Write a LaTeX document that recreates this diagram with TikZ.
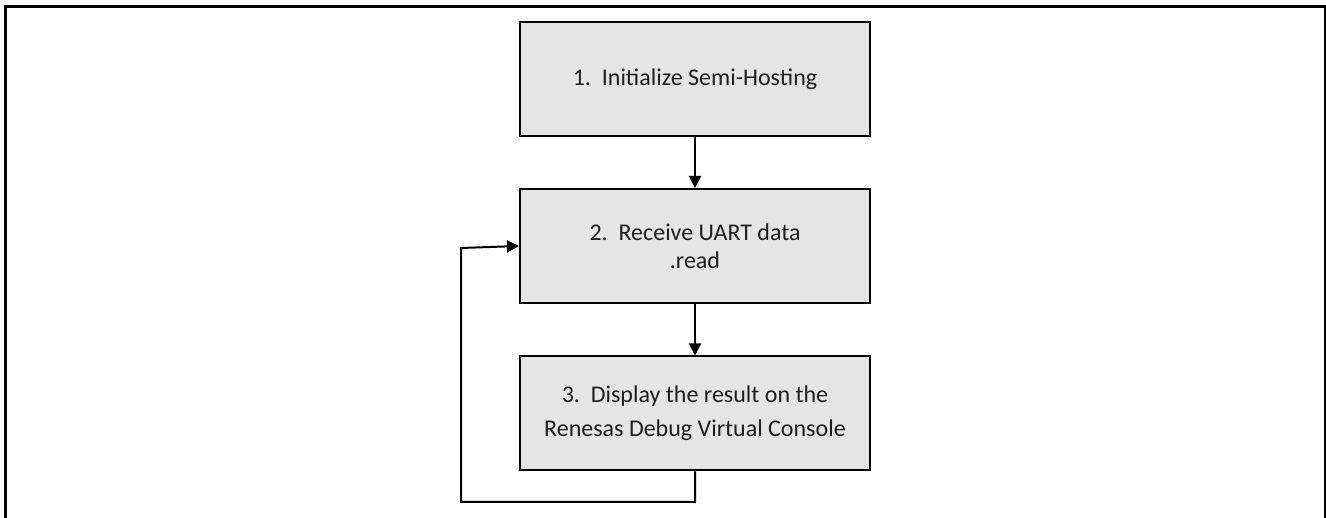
\documentclass[tikz,border=0pt]{standalone}
\usepackage{fontspec}
\setmainfont{Carlito}
\usetikzlibrary{arrows.meta}
\begin{document}
\begin{tikzpicture}[x=1pt,y=-1pt,
  stepbox/.style={draw=black, line width=2pt, fill=black!10, minimum width=350pt, minimum height=114pt, align=center, inner sep=0pt, font=\fontsize{24}{28}\selectfont, text=black!88},
  conn/.style={draw=black, line width=2pt, -{Triangle[length=12pt,width=12pt]}}]
\useasboundingbox (0,0) rectangle (1326,518);
\draw[line width=3pt] (5,518) -- (5,7) -- (1325,7) -- (1325,518);
\node[stepbox] (s1) at (695,79.5) {1.~~Initialize Semi-Hosting};
\node[stepbox] (s2) at (695,246) {2.~~Receive UART data\\.read};
\node[stepbox] (s3) at (695,413.5) {3.~~Display the result on the\\[6pt]Renesas Debug Virtual Console};
\coordinate (c1) at (695,502);
\coordinate (c2) at (461,502);
\coordinate (c3) at (461,248);
\draw[conn] (s1) -- (s2);
\draw[conn] (s2) -- (s3);
\draw[conn] (s3.south) -- (c1) -- (c2) -- (c3) -- (s2.west);
\end{tikzpicture}
\end{document}
